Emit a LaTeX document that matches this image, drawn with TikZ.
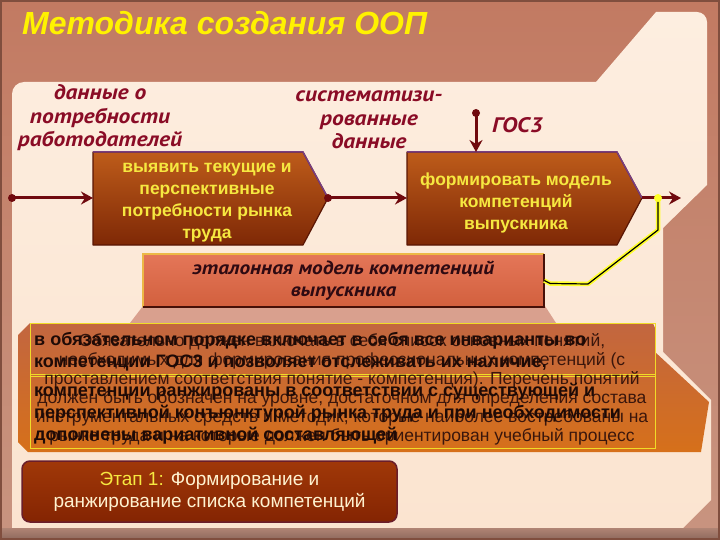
\documentclass[tikz,border=0pt]{standalone}
\usepackage{fontspec}
\setmainfont{Liberation Sans}
\newfontfamily\ptfont{PT Sans}[FakeStretch=1.12]
\usetikzlibrary{arrows.meta}
\definecolor{frameA}{RGB}{194,122,98}
\definecolor{frameB}{RGB}{200,148,128}
\definecolor{frameEdge}{RGB}{128,78,62}
\definecolor{bandA}{RGB}{176,132,116}
\definecolor{bandB}{RGB}{140,104,92}
\definecolor{peachA}{RGB}{253,238,224}
\definecolor{peachB}{RGB}{251,228,208}
\definecolor{lblred}{RGB}{138,12,38}
\definecolor{arr}{RGB}{112,10,14}
\definecolor{boxA}{RGB}{190,92,26}
\definecolor{boxB}{RGB}{126,40,6}
\definecolor{boxedge}{RGB}{90,22,4}
\definecolor{vio}{RGB}{120,62,128}
\definecolor{ytext}{RGB}{246,232,64}
\definecolor{refA}{RGB}{228,118,88}
\definecolor{refB}{RGB}{210,96,62}
\definecolor{reftext}{RGB}{46,10,18}
\definecolor{gold}{RGB}{236,184,70}
\definecolor{refdark}{RGB}{70,16,8}
\definecolor{pinkish}{RGB}{217,160,142}
\definecolor{orA}{RGB}{194,102,64}
\definecolor{orB}{RGB}{214,112,26}
\definecolor{ylw}{RGB}{240,220,40}
\definecolor{txtA}{RGB}{30,10,6}
\definecolor{txtB}{RGB}{58,22,12}
\definecolor{stageA}{RGB}{160,56,8}
\definecolor{stageB}{RGB}{132,36,2}
\definecolor{stageedge}{RGB}{106,30,42}
\definecolor{cream}{RGB}{255,242,208}
\definecolor{connY}{RGB}{255,255,40}
\begin{document}
\begin{tikzpicture}[x=1pt,y=-1pt,
  lbltext/.style={text=lblred,align=center,inner sep=0pt,font=\ptfont\bfseries\itshape\fontsize{21}{23.5}\selectfont},
  procfill/.style={top color=boxA,bottom color=boxB},
  procedge/.style={draw=boxedge,line width=1.2pt,line join=round},
  boxtxt/.style={text=ytext,align=center,inner sep=0pt,font=\bfseries\fontsize{17.5}{22}\selectfont},
  connarrow/.style={draw=arr,line width=3pt,-{Stealth[length=12pt,width=13pt,inset=4pt]}},
  dotmark/.style={circle,fill=arr,inner sep=0pt,minimum size=8pt},
  refbox/.style={minimum width=401pt,minimum height=53pt,inner sep=0pt,top color=refA,bottom color=refB,
     text=reftext,align=center,font=\ptfont\bfseries\itshape\fontsize{19}{22}\selectfont},
  layA/.style={anchor=base west,inner sep=0pt,text=txtA,font=\bfseries\fontsize{18}{22}\selectfont},
  layB/.style={anchor=base,inner sep=0pt,text=txtB,font=\fontsize{17.5}{20}\selectfont},
  stagebox/.style={rounded corners=8pt,minimum width=375pt,minimum height=61pt,inner sep=0pt,
     top color=stageA,bottom color=stageB,draw=stageedge,line width=1.5pt,text=cream,align=center,
     font=\fontsize{19}{22}\selectfont}
]
\useasboundingbox (0,0) rectangle (720,540);
% frame
\shade[top color=frameA,bottom color=frameB] (0,0) rectangle (720,540);
% peach panel
\shade[top color=peachA,bottom color=peachB] (12,528) -- (12,94) arc[start angle=180,end angle=270,radius=12]
  -- (596,82) -- (656,12) -- (697,12) arc[start angle=270,end angle=360,radius=10]
  -- (707,185) -- (663,228) -- (663,352) -- (711,400) -- (711,500) -- (683,528) -- cycle;
% bottom band and outer edge
\shade[top color=bandA,bottom color=bandB] (0,528) rectangle (720,540);
\draw[frameEdge,line width=2pt] (1,1) rectangle (719,539);

% title
\node[anchor=base west,inner sep=0pt,text=yellow,font=\bfseries\itshape\fontsize{32}{36}\selectfont] (title) at (22,35) {Методика создания ООП};

% funnel background
\fill[pinkish] (143,306) -- (545,306) -- (556,323) -- (130,323) -- cycle;
\shade[top color=orA,bottom color=orB] (30,323) -- (650,323) arc[start angle=270,end angle=360,radius=5]
  -- (655,352) -- (709,402) -- (701,452) -- (28,452) -- (18,442) -- (18,335) -- cycle;
\draw[ylw,line width=0.8pt] (30,323) rectangle (655,376);
\draw[ylw,line width=0.8pt] (30,374) rectangle (655,448);

% text layers
\node[layB] (b1) at (342,346) {Обязательно должен включать в себя список основных понятий,};
\node[layB] (b2) at (342,365) {необходимых для формирования профессиональных компетенций (с};
\node[layB] (b3) at (342,384) {проставлением соответствия понятие - компетенция). Перечень понятий};
\node[layB] (b4) at (342,403) {должен быть обозначен на уровне, достаточном для определения состава};
\node[layB] (b5) at (342,422) {инструментальных средств и методик, которые наиболее востребованы на};
\node[layB] (b6) at (342,441) {рынке труда и на которые должен быть ориентирован учебный процесс};
\node[layA] (a1) at (34,345) {в обязательном порядке включает в себя все инварианты во};
\node[layA] (a2) at (34,367) {компетенции ГОС3 и позволяет отслеживать их наличие,};
\node[layA] (a3) at (34,396) {компетенции ранжированы в соответствии с существующей и};
\node[layA] (a4) at (34,418) {перспективной конъюнктурой рынка труда и при необходимости};
\node[layA] (a5) at (34,440) {дополнены вариативной составляющей};

% labels
\node[lbltext] (l1) at (100,118) {данные о\\потребности\\работодателей};
\node[lbltext] (l2) at (369,120) {систематизи-\\рованные\\данные};
\node[lbltext,anchor=west] (l3) at (492,125) {ГОС3};

% process boxes
\shade[procfill] (93,152) -- (303,152) -- (328,198) -- (303,245) -- (93,245) -- cycle;
\draw[procedge] (93,152) -- (303,152) -- (328,198) -- (303,245) -- (93,245) -- cycle;
\shade[procfill] (407,152) -- (617,152) -- (642,198) -- (617,245) -- (407,245) -- cycle;
\draw[procedge] (407,152) -- (617,152) -- (642,198) -- (617,245) -- (407,245) -- cycle;
\draw[vio,line width=1.5pt] (93,152) -- (303,152) -- (328,198);
\draw[vio,line width=1.5pt] (407,152) -- (617,152) -- (642,198);
\coordinate (b1w) at (93,198);
\coordinate (b1e) at (328,198);
\coordinate (b2w) at (407,198);
\coordinate (b2e) at (642,198);
\coordinate (b2n) at (476,152);
\node[boxtxt] (box1t) at (207,203) {выявить текущие и\\перспективные\\потребности рынка\\труда};
\node[boxtxt] (box2t) at (516,203) {формировать модель\\компетенций\\выпускника};

% reference model box
\node[refbox] (ref) at (343.5,280.5) {эталонная модель компетенций\\выпускника};
\draw[gold,line width=1.5pt] (ref.south west) -- (ref.north west) -- (ref.north east);
\draw[refdark,line width=2pt] (ref.north east) -- (ref.south east) -- (ref.south west);

% connectors
\node[dotmark] (d1) at (12,198) {};
\draw[connarrow] (d1.center) -- (b1w);
\node[dotmark] (d2) at (b1e) {};
\draw[connarrow] (d2.center) -- (b2w);
\node[dotmark] (d3) at (476,113) {};
\draw[connarrow] (d3.center) -- (b2n);
\coordinate (out) at (681,198);
\draw[connarrow] (b2e) -- (out);
\coordinate (yd) at (658,198);
\draw[connY,line width=4.5pt,line join=round] (ref.east) -- ++(6,3) -- (588,284) -- (658,230) -- (yd);
\draw[black,line width=1.2pt,line join=round] (ref.east) -- ++(6,3) -- (588,284) -- (658,230) -- (yd);
\fill[connY] (yd) circle[radius=4];

% stage box
\node[stagebox] (stage) at (209.5,491.5) {{\color{ytext}Этап 1:} Формирование и\\ранжирование списка компетенций};
\end{tikzpicture}
\end{document}
